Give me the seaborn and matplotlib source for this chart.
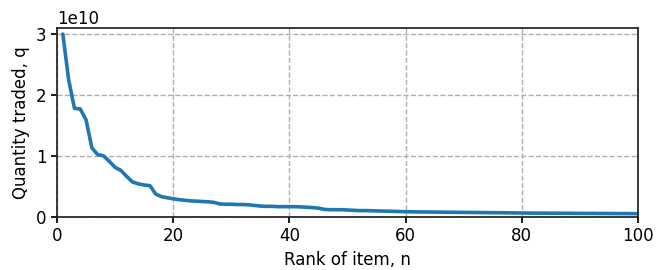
import matplotlib
matplotlib.use("Agg")
import matplotlib.pyplot as plt
import seaborn as sns
import pandas as pd

ranks = list(range(1, 101))
quantity_e10 = [
    3.0, 2.25, 1.78, 1.77, 1.59, 1.13, 1.02, 1.00, 0.91, 0.81,
    0.76, 0.66, 0.57, 0.54, 0.52, 0.51, 0.37, 0.33, 0.31, 0.295,
    0.28, 0.27, 0.26, 0.255, 0.25, 0.245, 0.235, 0.21, 0.205, 0.205,
    0.20, 0.20, 0.195, 0.185, 0.175, 0.17, 0.17, 0.165, 0.165, 0.165,
    0.165, 0.16, 0.155, 0.15, 0.14, 0.12, 0.115, 0.115, 0.115, 0.11,
    0.105, 0.10, 0.10, 0.098, 0.095, 0.093, 0.09, 0.088, 0.085, 0.082,
    0.08, 0.079, 0.078, 0.077, 0.076, 0.075, 0.074, 0.073, 0.072, 0.071,
    0.07, 0.069, 0.068, 0.067, 0.066, 0.065, 0.064, 0.063, 0.062, 0.061,
    0.06, 0.059, 0.058, 0.058, 0.057, 0.057, 0.056, 0.056, 0.055, 0.055,
    0.054, 0.054, 0.053, 0.053, 0.052, 0.052, 0.051, 0.051, 0.05, 0.05,
]
quantity = [v * 1e10 for v in quantity_e10]

df = pd.DataFrame({"rank": ranks, "q": quantity})

sns.set_style("ticks")
plt.rcParams["font.family"] = ["DejaVu Sans"]
plt.rcParams["font.size"] = 12
plt.rcParams["text.color"] = "black"
plt.rcParams["axes.labelcolor"] = "black"
plt.rcParams["xtick.color"] = "black"
plt.rcParams["ytick.color"] = "black"

fig = plt.figure(figsize=(6.57, 2.7), dpi=100)
ax = fig.add_axes([0.0868, 0.1974, 0.8843, 0.6989])
sns.lineplot(data=df, x="rank", y="q", ax=ax, color="#1f77b4", linewidth=2.6)
ax.set_xlim(0, 100)
ax.set_ylim(0, 3.1e10)
ax.set_xticks([0, 20, 40, 60, 80, 100])
ax.set_yticks([0, 1e10, 2e10, 3e10])
ax.grid(True, linestyle="--", color="#b0b0b0", linewidth=1)
ax.set_axisbelow(True)
for s in ax.spines.values():
    s.set_color("#222222")
    s.set_linewidth(1.25)
ax.tick_params(axis="both", labelsize=12, colors="black", length=4, width=1.25, direction="out")
ax.set_xlabel("Rank of item, n", fontsize=12)
ax.set_ylabel("Quantity traded, q", fontsize=12)
ax.yaxis.get_offset_text().set_fontsize(12)
ax.yaxis.get_offset_text().set_color("black")
fig.savefig("out.png", dpi=100)
